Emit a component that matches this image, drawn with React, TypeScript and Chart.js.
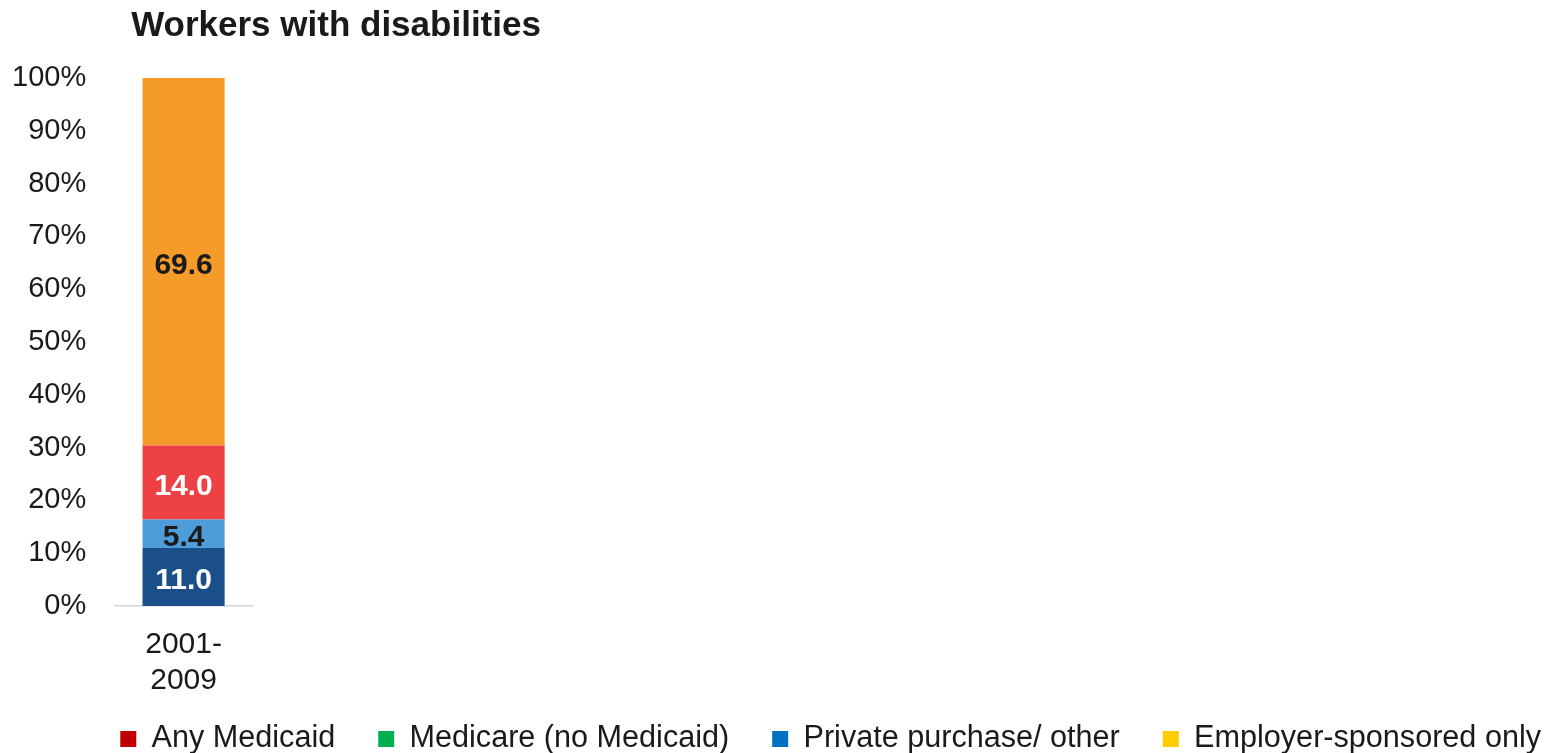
import React, { useEffect, useRef } from "react";
import { Chart, registerables } from "chart.js";

Chart.register(...registerables);

const categories: string[][] = [["2001-", "2009"]];
const seriesNames = ["Any Medicaid", "Medicare (no Medicaid)", "Private purchase/ other", "Employer-sponsored only"];
const anyMedicaid = [11.0];
const medicareNoMedicaid = [5.4];
const privatePurchase = [14.0];
const employerOnly = [69.6];
const barColors = ["#1B4F8A", "#4E9CD8", "#EE4144", "#F49B2A"];
const legendColors = ["#C00000", "#00B050", "#0070C0", "#FFCC00"];
const labelColors = ["#ffffff", "#1a1a1a", "#ffffff", "#1a1a1a"];
const yTicks = [0, 10, 20, 30, 40, 50, 60, 70, 80, 90, 100];
const titleText = "Workers with disabilities";

const FONT = "'Liberation Sans', Arial, sans-serif";
const TEXT = "#1a1a1a";

const titlePlugin = {
  id: "leftTitle",
  afterDraw(chart: any) {
    const ctx = chart.ctx;
    ctx.save();
    ctx.font = `bold 35px ${FONT}`;
    ctx.fillStyle = TEXT;
    ctx.textAlign = "left";
    ctx.textBaseline = "alphabetic";
    ctx.fillText(titleText, chart.chartArea.left + 16, 36);
    ctx.restore();
  },
};

const valueLabels = {
  id: "valueLabels",
  afterDatasetsDraw(chart: any) {
    const ctx = chart.ctx;
    ctx.save();
    ctx.font = `bold 30px ${FONT}`;
    ctx.textAlign = "center";
    ctx.textBaseline = "middle";
    chart.data.datasets.forEach((ds: any, i: number) => {
      const meta = chart.getDatasetMeta(i);
      meta.data.forEach((el: any, j: number) => {
        const v = ds.data[j];
        const p = el.getProps(["x", "y", "base"], true);
        ctx.fillStyle = labelColors[i];
        ctx.fillText(Number(v).toFixed(1), p.x, (p.y + p.base) / 2 + 4);
      });
    });
    ctx.restore();
  },
};

export default function App() {
  const ref = useRef<HTMLCanvasElement | null>(null);
  useEffect(() => {
    if (!ref.current) return;
    const values = [anyMedicaid, medicareNoMedicaid, privatePurchase, employerOnly];
    const chart = new Chart(ref.current, {
      type: "bar",
      data: {
        labels: categories as any,
        datasets: seriesNames.map((name, i) => ({
          label: name,
          data: values[i],
          backgroundColor: barColors[i],
          borderWidth: 0,
          barPercentage: 0.6,
          categoryPercentage: 1,
        })),
      },
      plugins: [titlePlugin, valueLabels],
      options: {
        animation: false,
        responsive: true,
        maintainAspectRatio: false,
        layout: { padding: { top: 78, left: -17, right: -38, bottom: -11.3 } },
        plugins: {
          title: { display: false },
          tooltip: { enabled: false },
          legend: {
            display: true,
            position: "bottom",
            align: "end",
            labels: {
              boxWidth: 16,
              boxHeight: 16,
              padding: 43,
              color: TEXT,
              font: { family: FONT, size: 30.6 },
              generateLabels: (c: any) =>
                Chart.defaults.plugins.legend.labels.generateLabels(c).map((it: any, i: number) => ({
                  ...it,
                  fillStyle: legendColors[i],
                  strokeStyle: legendColors[i],
                  lineWidth: 0,
                })),
            },
          },
        },
        scales: {
          x: {
            stacked: true,
            grid: { display: false, drawTicks: false },
            border: { display: true, color: "#d4d4d4", width: 1.5 },
            ticks: {
              color: TEXT,
              mirror: true,
              padding: -57,
              font: { family: FONT, size: 30, lineHeight: 36 / 30 },
              maxRotation: 0,
            },
            afterFit: (s: any) => {
              s.height = 74.7;
              s.paddingLeft = 0;
              s.paddingRight = 0;
            },
          },
          y: {
            stacked: true,
            min: 0,
            max: 100,
            grid: { display: false, drawTicks: false },
            border: { display: false },
            afterBuildTicks: (s: any) => {
              s.ticks = yTicks.map((v) => ({ value: v }));
            },
            ticks: {
              color: TEXT,
              padding: 29,
              font: { family: FONT, size: 29 },
              callback: (v: any) => `${v}%`,
            },
          },
          blank: {
            type: "linear",
            position: "right",
            display: true,
            grid: { display: false, drawTicks: false },
            border: { display: false },
            ticks: { display: false },
            afterFit: (s: any) => {
              s.width = 1584 - 252;
            },
          },
        },
      } as any,
    });
    return () => chart.destroy();
  }, []);
  return (
    <div style={{ position: "fixed", left: 0, top: 0, width: 1546, height: 753, background: "#fff" }}>
      <canvas ref={ref} />
    </div>
  );
}
